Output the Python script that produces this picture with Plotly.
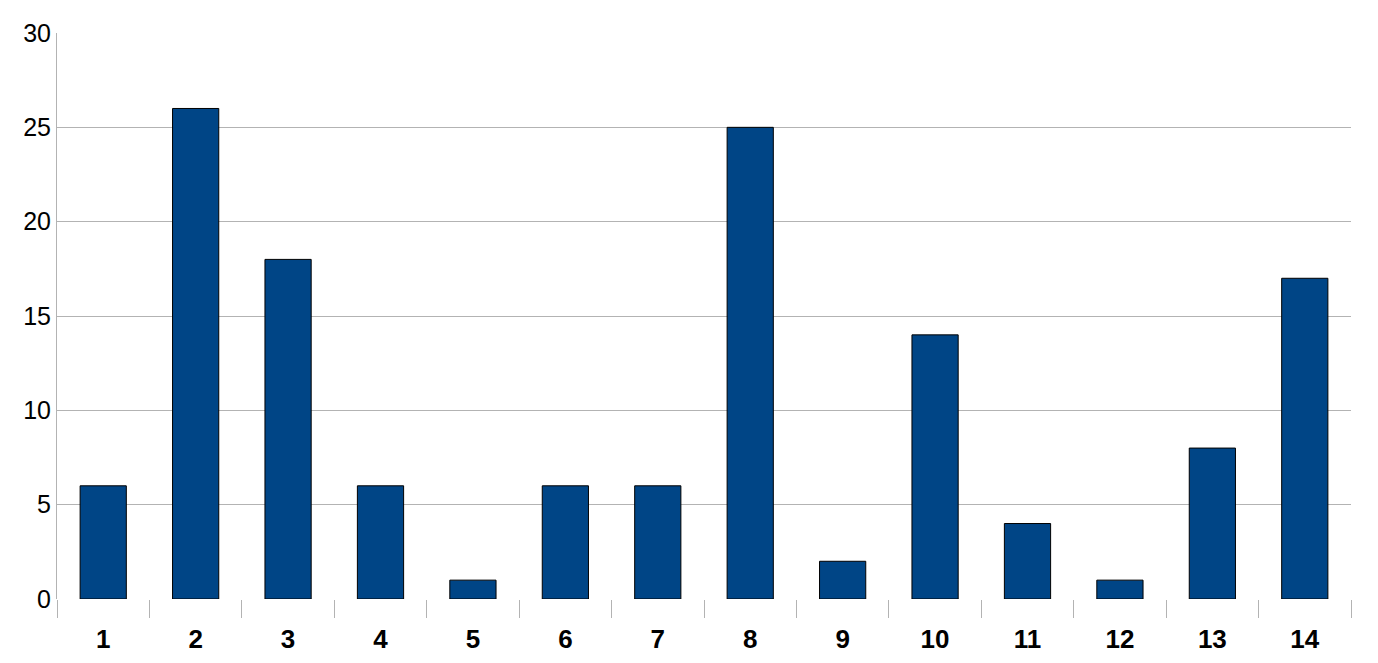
import plotly.graph_objects as go

categories = ["1", "2", "3", "4", "5", "6", "7", "8", "9", "10", "11", "12", "13", "14"]
values = [6, 26, 18, 6, 1, 6, 6, 25, 2, 14, 4, 1, 8, 17]
y_ticks = [0, 5, 10, 15, 20, 25, 30]

fig = go.Figure()
fig.add_trace(go.Bar(
    x=categories, y=values,
    marker=dict(color="#004586", line=dict(color="#000000", width=1)),
))

fig.update_layout(
    width=1370, height=655,
    margin=dict(l=49, r=27, t=25, b=64),
    paper_bgcolor="white", plot_bgcolor="white",
    bargap=0.5, showlegend=False,
    font=dict(family="Liberation Sans, Arial, sans-serif", color="black"),
)
fig.update_xaxes(
    type="category", automargin=False,
    tickson="boundaries", ticks="outside", ticklen=18, tickcolor="#b3b3b3", tickwidth=1,
    showgrid=False, showline=False, ticklabelstandoff=22,
    tickfont=dict(family="Liberation Sans, Arial, sans-serif", size=26, color="black", weight="bold"),
)
fig.update_yaxes(
    range=[0, 30], tickvals=y_ticks, ticktext=[str(v) for v in y_ticks],
    showgrid=True, gridcolor="#b3b3b3", gridwidth=1, automargin=False,
    zeroline=False, showline=True, linecolor="#b3b3b3", linewidth=1,
    ticks="", ticklabelstandoff=0,
    tickfont=dict(family="Liberation Sans Narrow, Liberation Sans, Arial, sans-serif", size=25, color="black"),
)

fig.write_html("out.html")
